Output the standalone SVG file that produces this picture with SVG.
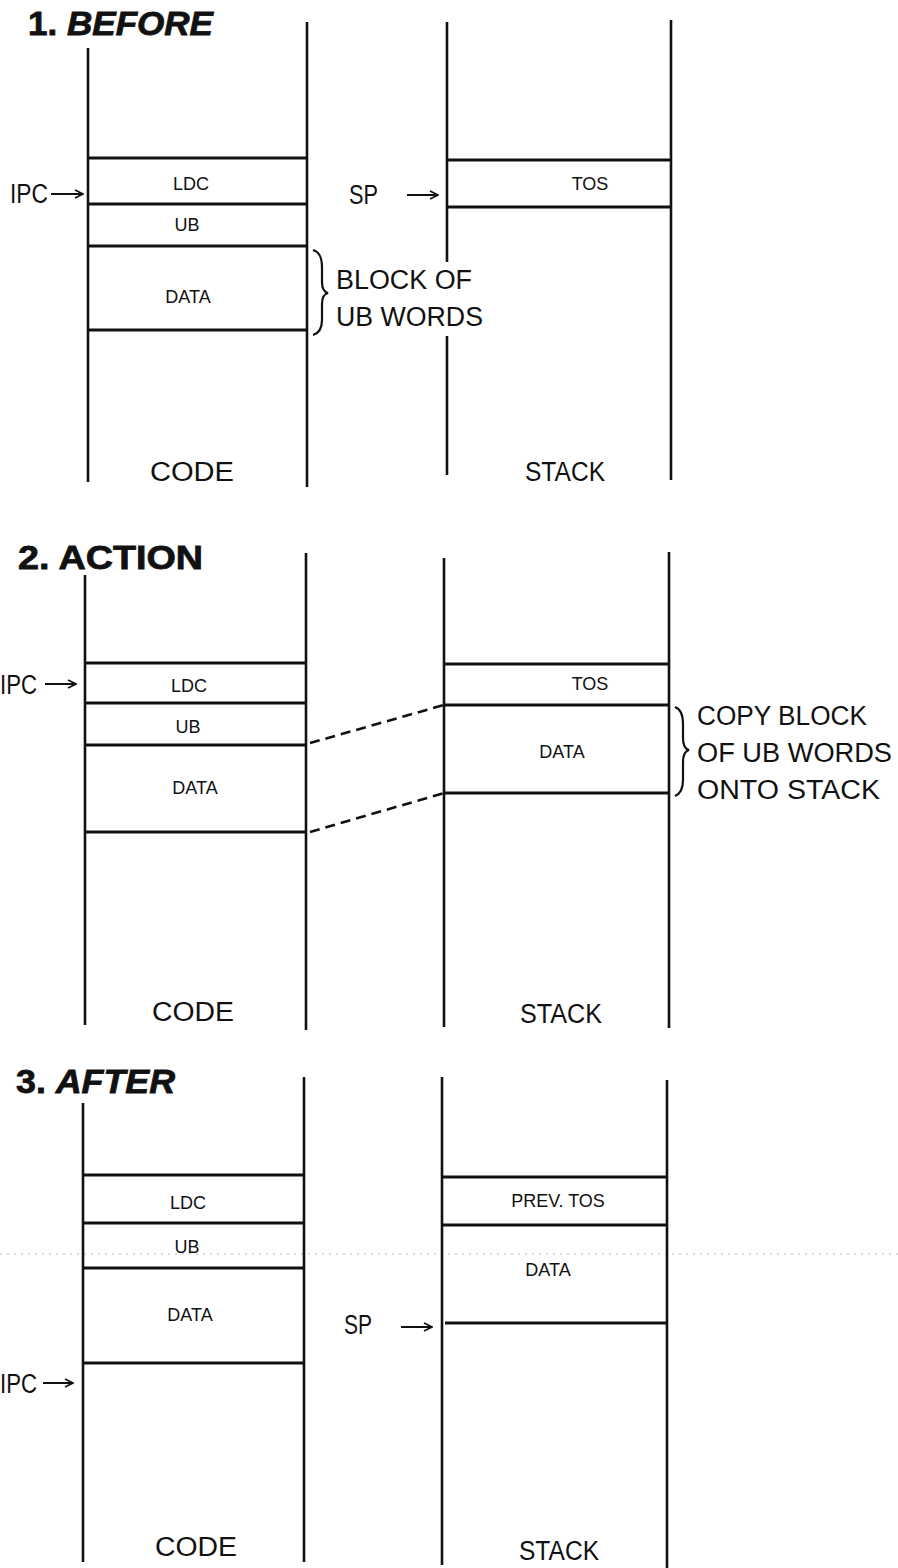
<svg xmlns="http://www.w3.org/2000/svg" width="898" height="1568" viewBox="0 0 898 1568">
<style>
text{font-family:"Liberation Sans",Arial,sans-serif;fill:#111}
.t{font-size:33px;font-weight:bold;stroke:#111;stroke-width:0.8}
.lab{font-size:27px}
.cell{font-size:18px;text-anchor:middle}
.v{stroke:#111;stroke-width:2.6;fill:none;stroke-linecap:butt}
.h{stroke:#111;stroke-width:3;fill:none}
.arr{stroke:#111;stroke-width:2;fill:none;marker-end:url(#ah)}
.dash{stroke:#111;stroke-width:2.6;fill:none;stroke-dasharray:10 6}
.brace{stroke:#111;stroke-width:2.2;fill:none}
</style>
<defs>
<marker id="ah" viewBox="0 0 10 10" refX="9" refY="5" markerWidth="10" markerHeight="10" markerUnits="userSpaceOnUse" orient="auto">
<path d="M1,1 L9,5 L1,9" fill="none" stroke="#111" stroke-width="1.6"/>
</marker>
</defs>
<rect width="898" height="1568" fill="#fff"/>

<!-- scan artifact -->
<line x1="0" y1="1254" x2="898" y2="1254" stroke="#bbb" stroke-width="1" stroke-dasharray="2 5"/>

<!-- SECTION 1 -->
<g id="title-1"><text class="t" x="28" y="35" textLength="185" lengthAdjust="spacingAndGlyphs">1.  <tspan font-style="italic">BEFORE</tspan></text></g>
<g id="code-1">
<path class="v" d="M88,48 V482 M307,22 V487"/>
<path class="h" d="M88,158 H307 M88,204 H307 M88,246 H307 M88,330 H307"/>
<text class="cell" x="191" y="190">LDC</text>
<text class="cell" x="187" y="231">UB</text>
<text class="cell" x="188" y="303">DATA</text>
<text class="lab" x="150" y="481" textLength="84" lengthAdjust="spacingAndGlyphs">CODE</text>
</g>
<g id="stack-1">
<path class="v" d="M447,22 V262 M447,336 V475 M671,20 V480"/>
<path class="h" d="M447,160 H671 M447,207 H671"/>
<text class="cell" x="590" y="190">TOS</text>
<text class="lab" x="525" y="481" textLength="80" lengthAdjust="spacingAndGlyphs">STACK</text>
</g>
<g id="labels-1">
<text class="lab" x="10" y="203" textLength="38" lengthAdjust="spacingAndGlyphs">IPC</text>
<text class="lab" x="349" y="204" textLength="29" lengthAdjust="spacingAndGlyphs">SP</text>
<text class="lab" x="336" y="289" textLength="136" lengthAdjust="spacingAndGlyphs">BLOCK OF</text>
<text class="lab" x="336" y="326" textLength="147" lengthAdjust="spacingAndGlyphs">UB WORDS</text>
</g>

<!-- SECTION 2 -->
<g id="title-2"><text class="t" x="18" y="569" textLength="185" lengthAdjust="spacingAndGlyphs">2.  ACTION</text></g>
<g id="code-2">
<path class="v" d="M85,575 V1025 M306,553 V1030"/>
<path class="h" d="M85,663 H306 M85,703 H306 M85,745 H306 M85,832 H306"/>
<text class="cell" x="189" y="692">LDC</text>
<text class="cell" x="188" y="733">UB</text>
<text class="cell" x="195" y="794">DATA</text>
<text class="lab" x="152" y="1021" textLength="82" lengthAdjust="spacingAndGlyphs">CODE</text>
</g>
<g id="stack-2">
<path class="v" d="M444,558 V1027 M669,552 V1028"/>
<path class="h" d="M444,664 H669 M444,705 H669 M444,793 H669"/>
<text class="cell" x="590" y="690">TOS</text>
<text class="cell" x="562" y="758">DATA</text>
<text class="lab" x="520" y="1023" textLength="82" lengthAdjust="spacingAndGlyphs">STACK</text>
</g>
<g id="labels-2">
<text class="lab" x="0" y="694" textLength="37" lengthAdjust="spacingAndGlyphs">IPC</text>
<text class="lab" x="697" y="725" textLength="170" lengthAdjust="spacingAndGlyphs">COPY BLOCK</text>
<text class="lab" x="697" y="762" textLength="195" lengthAdjust="spacingAndGlyphs">OF UB WORDS</text>
<text class="lab" x="697" y="799" textLength="183" lengthAdjust="spacingAndGlyphs">ONTO STACK</text>
</g>

<!-- SECTION 3 -->
<g id="title-3"><text class="t" x="16" y="1093" textLength="159" lengthAdjust="spacingAndGlyphs">3.  <tspan font-style="italic">AFTER</tspan></text></g>
<g id="code-3">
<path class="v" d="M83,1103 V1562 M304,1077 V1562"/>
<path class="h" d="M83,1175 H304 M83,1223 H304 M83,1268 H304 M83,1363 H304"/>
<text class="cell" x="188" y="1209">LDC</text>
<text class="cell" x="187" y="1253">UB</text>
<text class="cell" x="190" y="1321">DATA</text>
<text class="lab" x="155" y="1556" textLength="82" lengthAdjust="spacingAndGlyphs">CODE</text>
</g>
<g id="stack-3">
<path class="v" d="M442,1077 V1565 M667,1080 V1568"/>
<path class="h" d="M442,1177 H667 M442,1225 H667 M445,1323 H667"/>
<text class="cell" x="558" y="1207">PREV. TOS</text>
<text class="cell" x="548" y="1276">DATA</text>
<text class="lab" x="519" y="1560" textLength="80" lengthAdjust="spacingAndGlyphs">STACK</text>
</g>
<g id="labels-3">
<text class="lab" x="0" y="1393" textLength="37" lengthAdjust="spacingAndGlyphs">IPC</text>
<text class="lab" x="344" y="1334" textLength="28" lengthAdjust="spacingAndGlyphs">SP</text>
</g>

<!-- CONNECTORS -->
<g id="connectors">
<line class="arr" x1="51" y1="194" x2="83" y2="194"/>
<line class="arr" x1="407" y1="195" x2="438" y2="195"/>
<line class="arr" x1="45" y1="684" x2="76" y2="684"/>
<line class="arr" x1="43" y1="1383" x2="73" y2="1383"/>
<line class="arr" x1="401" y1="1327" x2="432" y2="1327"/>
<line class="dash" x1="310" y1="743" x2="444" y2="705"/>
<line class="dash" x1="310" y1="832" x2="444" y2="793"/>
<path class="brace" d="M313,250 C320,252 322,258 322,268 L322,282 C322,289 324,292 328,293 C324,294 322,297 322,304 L322,320 C322,328 320,333 313,335"/>
<path class="brace" d="M675,707 C681,709 683,715 683,724 L683,738 C683,746 685,749 689,750 C685,751 683,754 683,762 L683,780 C683,789 680,794 675,796"/>
</g>
</svg>
